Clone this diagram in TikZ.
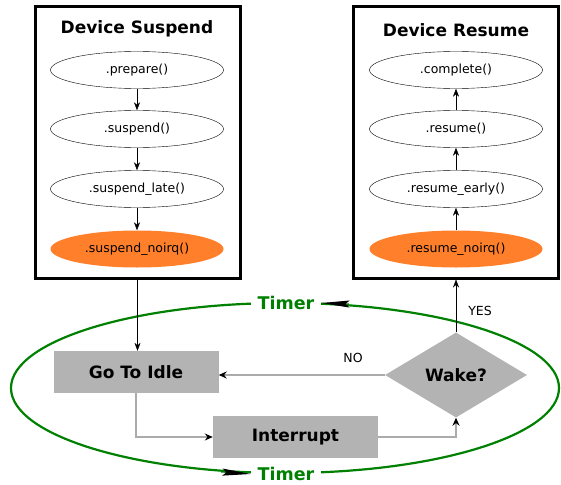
\documentclass[tikz,border=0pt]{standalone}
\usepackage{fontspec}
\setmainfont{DejaVu Sans}
\usetikzlibrary{arrows.meta, positioning, shapes.geometric}

\definecolor{noirqorange}{HTML}{FF7F2A}
\definecolor{idlegray}{HTML}{B3B3B3}
\definecolor{flowgray}{HTML}{ABABAB}
\definecolor{timergreen}{HTML}{008000}

\begin{document}
\begin{tikzpicture}[
    x=1pt, y=-1pt,
    phase_box/.style={draw, line width=3pt, minimum width=205, minimum height=271},
    phase_title/.style={font=\fontsize{17}{20}\selectfont\bfseries},
    cb_node/.style={ellipse, draw, thin, minimum width=173, minimum height=37, inner sep=0pt, font=\fontsize{12.5}{15}\selectfont},
    cb_noirq/.style={cb_node, draw=none, fill=noirqorange},
    cb_arrow/.style={-{Stealth[length=8pt, width=6pt]}, thin},
    state_box/.style={fill=idlegray, minimum width=165, minimum height=42, font=\fontsize{17}{20}\selectfont\bfseries},
    flow_arrow/.style={flowgray, line width=1.3pt, -{Stealth[length=8pt, width=7pt, color=black]}},
    flow_label/.style={font=\fontsize{12.5}{15}\selectfont},
    timer_loop/.style={timergreen, line width=2.2pt},
    timer_label/.style={fill=white, inner xsep=7pt, inner ysep=2pt, text=timergreen, font=\fontsize{17.5}{20}\selectfont\bfseries},
    timer_arrow/.style={timergreen, line width=1pt, -{Stealth[length=28pt, width=7pt, inset=4pt, color=black]}}
]
\useasboundingbox (0,0) rectangle (561,484);

% Suspend side (left)
\node[phase_box] (suspend_box) at (137.5,142.5) {};
\node[phase_title] (suspend_title) at (137,29) {Device Suspend};
\node[cb_node] (prepare) at (137,70) {.prepare()};
\node[cb_node] (suspend) at (137,129) {.suspend()};
\node[cb_node] (suspend_late) at (137,189) {.suspend\_late()};
\node[cb_noirq] (suspend_noirq) at (137,249) {.suspend\_noirq()};
\draw[cb_arrow] (prepare) -- (suspend);
\draw[cb_arrow] (suspend) -- (suspend_late);
\draw[cb_arrow] (suspend_late) -- (suspend_noirq);

% Resume side (right)
\node[phase_box] (resume_box) at (456,142.5) {};
\node[phase_title] (resume_title) at (456,30) {Device Resume};
\node[cb_node] (complete) at (456,70) {.complete()};
\node[cb_node] (resume) at (456,129) {.resume()};
\node[cb_node] (resume_early) at (456,189) {.resume\_early()};
\node[cb_noirq] (resume_noirq) at (456,249) {.resume\_noirq()};
\draw[cb_arrow] (resume_noirq) -- (resume_early);
\draw[cb_arrow] (resume_early) -- (resume);
\draw[cb_arrow] (resume) -- (complete);

% Idle loop
\node[state_box] (idle) at (136,372) {Go To Idle};
\node[state_box] (interrupt) at (295.5,437) {Interrupt};
\node[diamond, fill=idlegray, minimum width=142, minimum height=85, aspect=1.67, inner sep=0pt,
      font=\fontsize{17}{20}\selectfont\bfseries] (wake) at (456,375) {Wake?};

% Timer ellipse round the loop
\draw[timer_loop] (285,388) ellipse [x radius=274, y radius=85];
\node[timer_label] (timer_top) at (286,303) {Timer};
\node[timer_label] (timer_bottom) at (286,474) {Timer};
\coordinate (top_tail) at (349,304);
\coordinate (bottom_tail) at (221,472);
\draw[timer_arrow] (top_tail) -- (timer_top.east);
\draw[timer_arrow] (bottom_tail) -- (timer_bottom.west);

% Flow between the boxes
\draw[cb_arrow] (suspend_box.south) -- (suspend_box.south |- idle.north);
\draw[flow_arrow] (idle.south) |- (interrupt.west);
\draw[flow_arrow] (interrupt.east) -| (wake.south);
\draw[flow_arrow] (wake.west) -- (wake.west -| idle.east);
\node[flow_label] (no_label) at (353,358) {NO};
\draw[cb_arrow] (wake.north) -- (resume_box.south);
\node[flow_label] (yes_label) at (480,311) {YES};

\end{tikzpicture}
\end{document}
